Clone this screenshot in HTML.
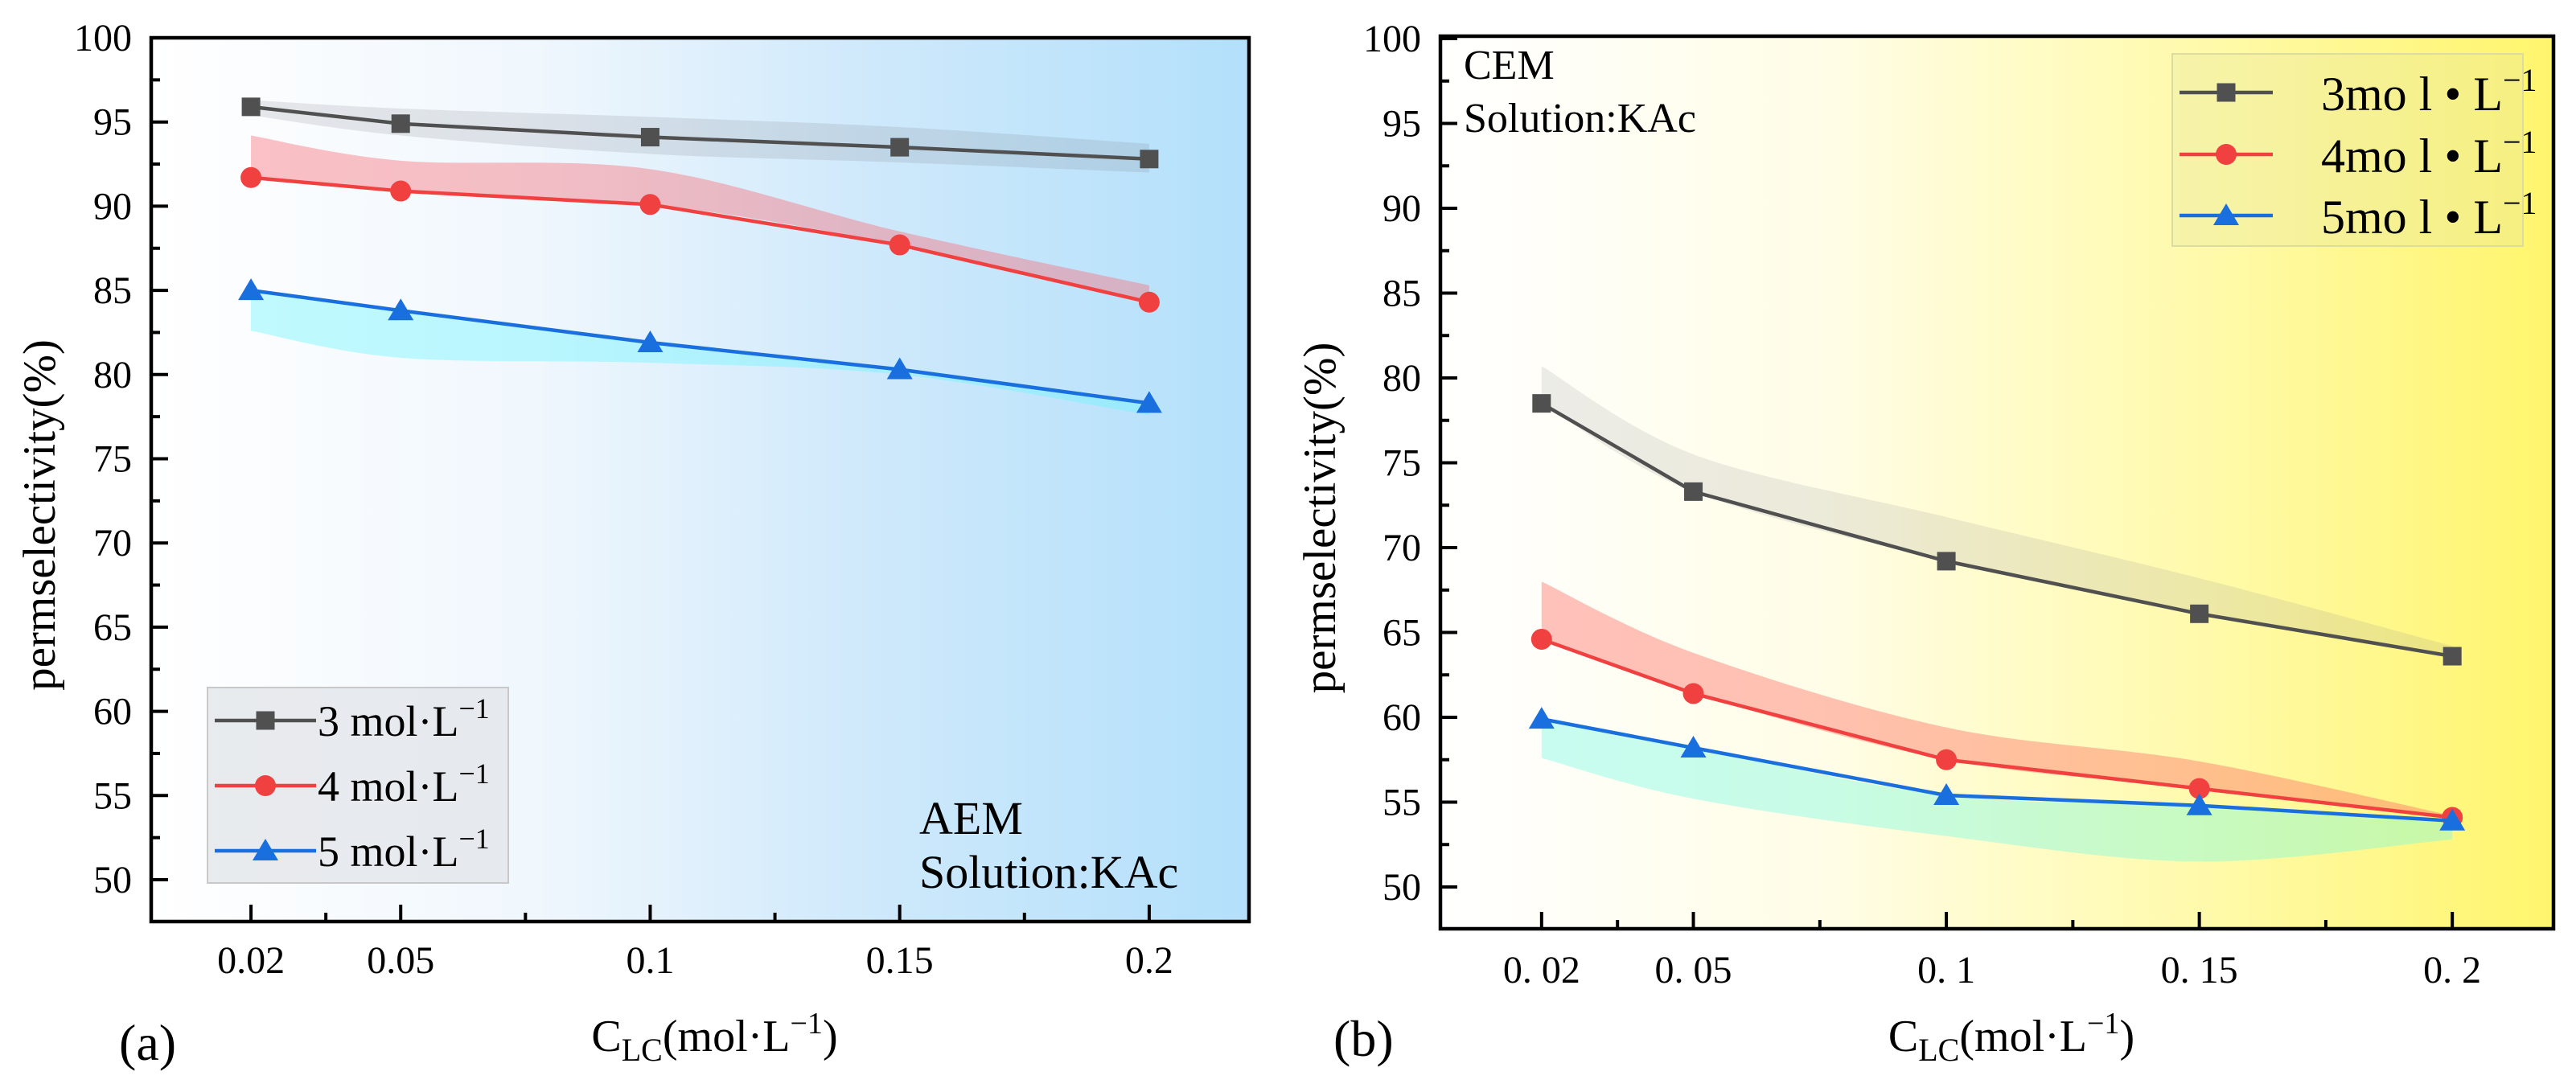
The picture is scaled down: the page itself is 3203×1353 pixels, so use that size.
<!DOCTYPE html>
<html><head><meta charset="utf-8"><style>
html,body{margin:0;padding:0;background:#fff;}
svg{display:block;font-family:"Liberation Serif","Noto Serif CJK SC",serif;}
</style></head><body>
<svg id="fig" width="3203" height="1353" viewBox="0 0 3203 1353" xmlns="http://www.w3.org/2000/svg">
<defs>
<linearGradient id="bgA" x1="0" x2="1" y1="0" y2="0">
<stop offset="0" stop-color="#ffffff"/><stop offset="0.35" stop-color="#f0f7fd"/><stop offset="0.65" stop-color="#cfe9fb"/><stop offset="1" stop-color="#b3e0fb"/>
</linearGradient>
<linearGradient id="bgB" x1="0" x2="1" y1="0" y2="0">
<stop offset="0" stop-color="#ffffff"/><stop offset="0.35" stop-color="#fffde6"/><stop offset="0.7" stop-color="#fffaa8"/><stop offset="1" stop-color="#fff56c"/>
</linearGradient>
</defs>
<g id="root"></g>
</svg>
<script>
// ---- data: panel (a) AEM ----
const categories = [0.02, 0.05, 0.1, 0.15, 0.2];
const tickLabelsA = ["0.02", "0.05", "0.1", "0.15", "0.2"];
const tickLabelsB = ["0. 02", "0. 05", "0. 1", "0. 15", "0. 2"];
const yTicks = [50, 55, 60, 65, 70, 75, 80, 85, 90, 95, 100];
const a3 = [95.9, 94.9, 94.1, 93.5, 92.8];
const a3hi = [96.3, 95.8, 95.3, 94.7, 93.7];
const a3lo = [95.4, 94.2, 93.1, 92.6, 92.0];
const a4 = [91.7, 90.9, 90.1, 87.7, 84.3];
const a4hi = [94.2, 92.7, 92.2, 88.5, 85.3];
const a5 = [85.0, 83.8, 81.9, 80.3, 78.3];
const a5lo = [82.6, 81.0, 80.7, 80.0, 77.6];
// ---- data: panel (b) CEM ----
const b3 = [78.5, 73.3, 69.2, 66.1, 63.6];
const b3hi = [80.7, 75.5, 71.8, 68.2, 64.2];
const b4 = [64.6, 61.4, 57.5, 55.8, 54.1];
const b4hi = [68.0, 63.8, 59.4, 57.4, 54.2];
const b5 = [59.9, 58.2, 55.4, 54.8, 53.9];
const b5lo = [57.6, 55.2, 53.0, 51.5, 52.8];

const NS = "http://www.w3.org/2000/svg";
const root = document.getElementById("root");
function mk(tag, attrs, parent) {
  const e = document.createElementNS(NS, tag);
  for (const k in attrs) e.setAttribute(k, attrs[k]);
  (parent || root).appendChild(e);
  return e;
}
function smooth(pts) {
  let d = "";
  for (let i = 0; i < pts.length - 1; i++) {
    const p0 = pts[Math.max(i - 1, 0)], p1 = pts[i], p2 = pts[i + 1], p3 = pts[Math.min(i + 2, pts.length - 1)];
    const c1 = [p1[0] + (p2[0] - p0[0]) / 6, p1[1] + (p2[1] - p0[1]) / 6];
    const c2 = [p2[0] - (p3[0] - p1[0]) / 6, p2[1] - (p3[1] - p1[1]) / 6];
    d += " C" + c1[0] + "," + c1[1] + " " + c2[0] + "," + c2[1] + " " + p2[0] + "," + p2[1];
  }
  return d;
}

function panel(cfg) {
  const g = mk("g", {});
  
  
  const L = cfg.left, R = cfg.right, T = cfg.top, B = cfg.bottom;
  const xs = v => L + (v - 0) / 0.22 * (R - L);
  const ys = v => cfg.y100 + (100 - v) * cfg.unit;
  const bg = mk("rect", {x: L, y: T, width: R - L, height: B - T, fill: cfg.bg}, g);
  
  
  cfg.bands.forEach(bd => {
    const up = categories.map((c, i) => [xs(c), ys(bd.hi[i])]);
    const lo = categories.map((c, i) => [xs(c), ys(bd.lo[i])]).reverse();
    const d = "M" + up[0][0] + "," + up[0][1] + smooth(up) + " L" + lo[0][0] + "," + lo[0][1] + smooth(lo) + " Z";
    const p = mk("path", {d: d, fill: bd.fill, stroke: "none"}, g);
    
    
  });
  cfg.series.forEach(s => {
    const sg = mk("g", {}, g);
    
    
    const pts = categories.map((c, i) => xs(c) + "," + ys(s.vals[i])).join(" ");
    mk("polyline", {points: pts, fill: "none", stroke: s.color, "stroke-width": 4.5}, sg);
    categories.forEach((c, i) => {
      const m = marker(s.shape, xs(c), ys(s.vals[i]), s.color, sg);
      
      
    });
  });
  const fr = mk("rect", {x: L, y: T, width: R - L, height: B - T, fill: "none", stroke: "#000", "stroke-width": 4.5}, g);
  
  
  const yg = mk("g", {}, g);
  
  
  yTicks.forEach(t => {
    mk("line", {x1: L, x2: L + 21, y1: ys(t), y2: ys(t), stroke: "#000", "stroke-width": 4}, yg);
    if (t < 100) mk("line", {x1: L, x2: L + 11, y1: ys(t + 2.5), y2: ys(t + 2.5), stroke: "#000", "stroke-width": 4}, yg);
    const tx = mk("text", {x: L - 24, y: ys(t) + 16, "text-anchor": "end", "font-size": 48, fill: "#000"}, yg);
    tx.textContent = String(t);
  });
  const xg = mk("g", {}, g);
  
  
  categories.forEach((c, i) => {
    mk("line", {x1: xs(c), x2: xs(c), y1: B, y2: B - 21, stroke: "#000", "stroke-width": 4}, xg);
    const tx = mk("text", {x: xs(c), y: cfg.xlabY, "text-anchor": "middle", "font-size": 48, fill: "#000"}, xg);
    tx.textContent = cfg.xlabels[i];
  });
  [0.035, 0.075, 0.125, 0.175].forEach(c => {
    mk("line", {x1: xs(c), x2: xs(c), y1: B, y2: B - 11, stroke: "#000", "stroke-width": 4}, xg);
  });
  const yt = mk("text", {x: 0, y: 0, transform: "translate(" + cfg.ytitleX + "," + ((T + B) / 2 + 44) + ") rotate(-90)", "text-anchor": "middle", "font-size": 57, fill: "#000"}, g);
  
  
  yt.textContent = "permselectivity(%)";
  const xt = mk("text", {x: (L + R) / 2 + 18, y: cfg.xtitleY, "text-anchor": "middle", "font-size": 56, fill: "#000"}, g);
  
  
  xt.innerHTML = 'C<tspan dy="12" font-size="40">LC</tspan><tspan dy="-12">(mol·L</tspan><tspan dy="-22" font-size="38">−1</tspan><tspan dy="22">)</tspan>';
  const pl = mk("text", {x: cfg.plX, y: cfg.plY, "font-size": 64, fill: "#000"}, g);
  
  
  pl.textContent = cfg.plText;
  return {g, xs, ys};
}

function marker(shape, x, y, color, parent) {
  if (shape === "square") return mk("rect", {x: x - 11.5, y: y - 11.5, width: 23, height: 23, fill: color}, parent);
  if (shape === "circle") return mk("circle", {cx: x, cy: y, r: 13, fill: color}, parent);
  return mk("path", {d: "M" + x + "," + (y - 15) + " L" + (x + 16) + "," + (y + 12) + " L" + (x - 16) + "," + (y + 12) + " Z", fill: color}, parent);
}

const GREY = "#505050", RED = "#f04040", BLUE = "#1a6fdf";

const pa = panel({
  name: "panel-a-aem", left: 188, right: 1553, top: 47, bottom: 1146, y100: 47, unit: 20.94,
  bg: "url(#bgA)", xlabels: tickLabelsA, xlabY: 1210, ytitleX: 68, xtitleY: 1307,
  plX: 148, plY: 1318, plText: "(a)",
  bands: [
    {name: "band-3mol", hi: a3hi, lo: a3lo, fill: "rgba(120,120,130,0.17)"},
    {name: "band-4mol", hi: a4hi, lo: a4, fill: "rgba(248,110,120,0.42)"},
    {name: "band-5mol", hi: a5, lo: a5lo, fill: "rgba(110,245,255,0.42)"}
  ],
  series: [
    {name: "series-3mol", vals: a3, color: GREY, shape: "square"},
    {name: "series-4mol", vals: a4, color: RED, shape: "circle"},
    {name: "series-5mol", vals: a5, color: BLUE, shape: "triangle"}
  ]
});

const pb = panel({
  name: "panel-b-cem", left: 1791, right: 3175, top: 45, bottom: 1155, y100: 48, unit: 21.1,
  bg: "url(#bgB)", xlabels: tickLabelsB, xlabY: 1222, ytitleX: 1660, xtitleY: 1307,
  plX: 1658, plY: 1313, plText: "(b)",
  bands: [
    {name: "band-3mol", hi: b3hi, lo: b3, fill: "rgba(140,140,150,0.17)"},
    {name: "band-4mol", hi: b4hi, lo: b4, fill: "rgba(255,110,100,0.42)"},
    {name: "band-5mol", hi: b5, lo: b5lo, fill: "rgba(110,250,230,0.38)"}
  ],
  series: [
    {name: "series-3mol", vals: b3, color: GREY, shape: "square"},
    {name: "series-4mol", vals: b4, color: RED, shape: "circle"},
    {name: "series-5mol", vals: b5, color: BLUE, shape: "triangle"}
  ]
});

// legend (a)
const lga = mk("g", {}, pa.g);


mk("rect", {x: 258, y: 855, width: 374, height: 243, fill: "rgba(225,228,232,0.75)", stroke: "#c8c8c8", "stroke-width": 2}, lga);
[["3", GREY, "square", 896], ["4", RED, "circle", 977], ["5", BLUE, "triangle", 1058]].forEach(r => {
  const e = mk("g", {}, lga);
  
  
  mk("line", {x1: 267, x2: 393, y1: r[3], y2: r[3], stroke: r[1], "stroke-width": 4.5}, e);
  marker(r[2], 330, r[3], r[1], e);
  const t = mk("text", {x: 395, y: r[3] + 19, "font-size": 54, fill: "#000"}, e);
  t.innerHTML = r[0] + ' mol·L<tspan dy="-22" font-size="36">−1</tspan>';
});
const ta1 = mk("text", {x: 1143, y: 1037, "font-size": 58, fill: "#000"}, pa.g);


ta1.innerHTML = '<tspan x="1143">AEM</tspan><tspan x="1143" dy="67">Solution:KAc</tspan>';

// legend (b)
const lgb = mk("g", {}, pb.g);


mk("rect", {x: 2701, y: 67, width: 436, height: 239, fill: "rgba(230,230,160,0.35)", stroke: "#dcdca0", "stroke-width": 2}, lgb);
[["3", GREY, "square", 115], ["4", RED, "circle", 192], ["5", BLUE, "triangle", 268]].forEach(r => {
  const e = mk("g", {}, lgb);
  
  
  mk("line", {x1: 2710, x2: 2826, y1: r[3], y2: r[3], stroke: r[1], "stroke-width": 4.5}, e);
  marker(r[2], 2768, r[3], r[1], e);
  const t = mk("text", {x: 2886, y: r[3] + 22, "font-size": 60, fill: "#000"}, e);
  t.innerHTML = r[0] + 'mo l • L<tspan dy="-24" font-size="40">−1</tspan>';
});
const tb1 = mk("text", {x: 1820, y: 98, "font-size": 52, fill: "#000"}, pb.g);


tb1.innerHTML = '<tspan x="1820">CEM</tspan><tspan x="1820" dy="66">Solution:KAc</tspan>';
</script>
</body></html>
